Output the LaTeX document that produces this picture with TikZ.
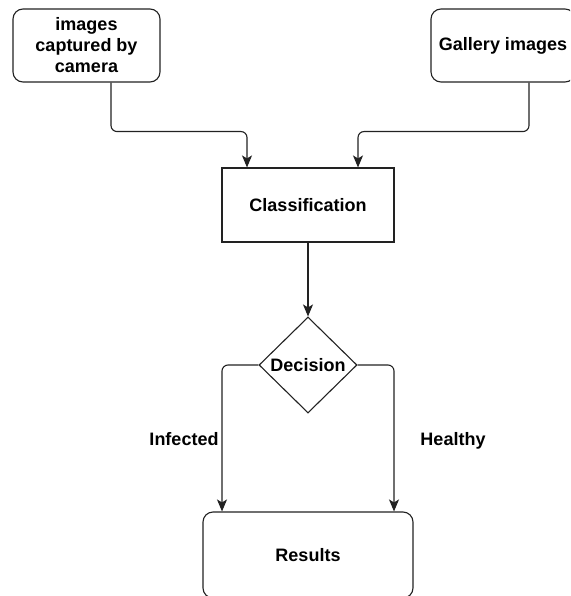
\documentclass[tikz,border=0pt]{standalone}
\usepackage{fontspec}
\setmainfont{Liberation Sans}
\usetikzlibrary{shapes.geometric,arrows.meta}
\definecolor{linegray}{HTML}{222222}
\begin{document}
\begin{tikzpicture}[x=1pt,y=-1pt,
  every node/.style={font=\fontsize{18}{21}\selectfont\bfseries, align=center},
  box/.style={draw=linegray, line width=1.1pt, inner sep=0pt},
  roundbox/.style={box, rounded corners=10pt},
  decbox/.style={draw=linegray, line width=1.1pt, diamond, inner sep=0pt},
  arr/.style={draw=linegray, line width=1.1pt, rounded corners=6pt,
    -{Stealth[length=12pt,width=10pt,inset=3pt]}},
  lbl/.style={inner sep=0pt}]
  \clip (0,0) rectangle (570,596);
  \fill[white] (0,0) rectangle (570,596);

  % sources
  \node[roundbox, minimum width=147pt, minimum height=73pt] (cam) at (86.5,45.5)
    {images\\captured by\\camera};
  \node[roundbox, minimum width=144pt, minimum height=73pt] (gal) at (503,45.5)
    {Gallery images};

  % processing
  \node[box, minimum width=172pt, minimum height=74pt] (cls) at (308,205)
    {Classification};
  \node[decbox, minimum width=98pt, minimum height=96pt] (dec) at (308,365) {};
  \node[lbl] (dectext) at (dec.center) {Decision};

  % output
  \node[roundbox, minimum width=210pt, minimum height=86pt] (res) at (308,555)
    {Results};

  % branch labels
  \node[lbl, anchor=base] (inf) at (184,445) {Infected};
  \node[lbl, anchor=base] (hea) at (453,445) {Healthy};

  % connectors
  \draw[arr] ([xshift=24.5]cam.south) -- ++(0,49) -| ([xshift=-61]cls.north);
  \draw[arr] ([xshift=26]gal.south) -- ++(0,49) -| ([xshift=50]cls.north);
  \draw[arr] (cls.south) -- (dec.north);
  \draw[arr] (dec.west) -| ([xshift=-86]res.north);
  \draw[arr] (dec.east) -| ([xshift=86]res.north);
\end{tikzpicture}
\end{document}
